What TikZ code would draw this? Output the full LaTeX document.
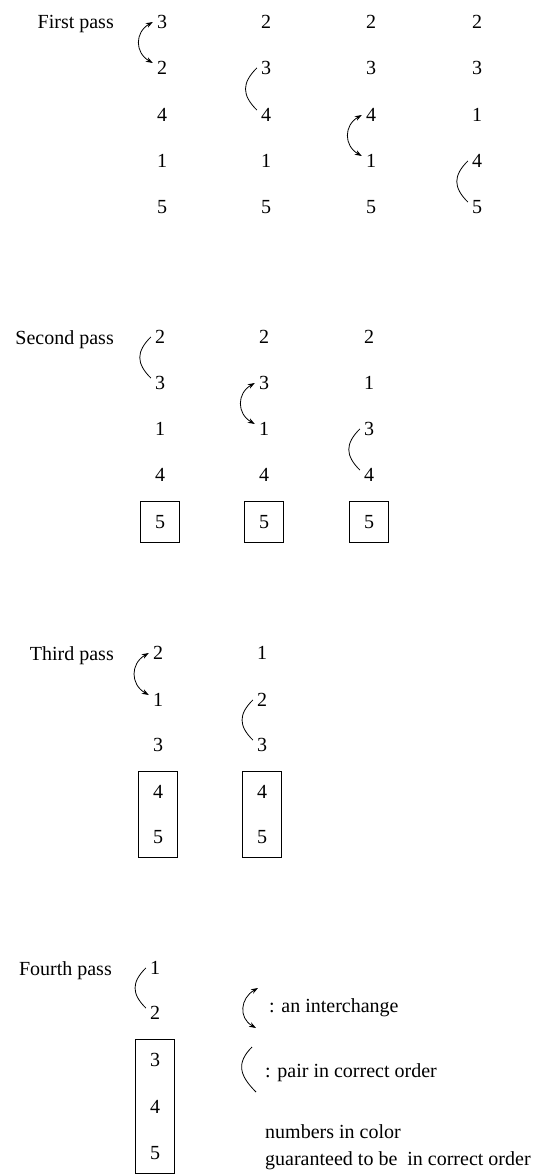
\documentclass[tikz,border=0pt]{standalone}
\usepackage{fontspec}
\setmainfont{Liberation Serif}
\usetikzlibrary{arrows.meta,fit}
\begin{document}
\begin{tikzpicture}[x=1pt,y=1pt,
  every node/.style={font=\fontsize{20}{24}\selectfont},
  num/.style={inner sep=2pt},
  lbl/.style={anchor=base east,inner sep=0pt},
  txt/.style={anchor=base west,inner sep=0pt},
  pairarc/.style={line width=0.8pt,looseness=1.3},
  swaparc/.style={line width=0.8pt,looseness=1.3,{Stealth[length=7pt,width=5pt]}-{Stealth[length=7pt,width=5pt]}},
  sortbox/.style={draw,line width=0.9pt,inner xsep=12pt,inner ysep=12pt}]
\useasboundingbox (0,0) rectangle (543,-1174);

% ---------- First pass ----------
\node[lbl] (l1) at (114,-29) {First pass};
\node[num] (a11) at (162,-22) {3};
\node[num] (a12) at (162,-68) {2};
\node[num] (a13) at (162,-115) {4};
\node[num] (a14) at (162,-161) {1};
\node[num] (a15) at (162,-207) {5};
\node[num] (a21) at (266,-22) {2};
\node[num] (a22) at (266,-68) {3};
\node[num] (a23) at (266,-115) {4};
\node[num] (a24) at (266,-161) {1};
\node[num] (a25) at (266,-207) {5};
\node[num] (a31) at (371,-22) {2};
\node[num] (a32) at (371,-68) {3};
\node[num] (a33) at (371,-115) {4};
\node[num] (a34) at (371,-161) {1};
\node[num] (a35) at (371,-207) {5};
\node[num] (a41) at (477,-22) {2};
\node[num] (a42) at (477,-68) {3};
\node[num] (a43) at (477,-115) {1};
\node[num] (a44) at (477,-161) {4};
\node[num] (a45) at (477,-207) {5};
\draw[swaparc] ([xshift=-2pt]a11.west) to[out=210,in=150] ([xshift=-2pt,yshift=5pt]a12.west);
\draw[pairarc] ([xshift=-2pt]a22.west) to[out=225,in=135] ([xshift=-2pt,yshift=5pt]a23.west);
\draw[swaparc] ([xshift=-2pt]a33.west) to[out=210,in=150] ([xshift=-2pt,yshift=5pt]a34.west);
\draw[pairarc] ([xshift=-2pt]a44.west) to[out=225,in=135] ([xshift=-2pt,yshift=5pt]a45.west);

% ---------- Second pass ----------
\node[lbl] (l2) at (114,-344) {Second pass};
\node[num] (b11) at (160,-337) {2};
\node[num] (b12) at (160,-383) {3};
\node[num] (b13) at (160,-429) {1};
\node[num] (b14) at (160,-475) {4};
\node[num] (b15) at (160,-522) {5};
\node[num] (b21) at (264,-337) {2};
\node[num] (b22) at (264,-383) {3};
\node[num] (b23) at (264,-429) {1};
\node[num] (b24) at (264,-475) {4};
\node[num] (b25) at (264,-522) {5};
\node[num] (b31) at (369,-337) {2};
\node[num] (b32) at (369,-383) {1};
\node[num] (b33) at (369,-429) {3};
\node[num] (b34) at (369,-475) {4};
\node[num] (b35) at (369,-522) {5};
\node[sortbox,fit=(b15)] (bx1) {};
\node[sortbox,fit=(b25)] (bx2) {};
\node[sortbox,fit=(b35)] (bx3) {};
\draw[pairarc] ([xshift=-2pt]b11.west) to[out=225,in=135] ([xshift=-2pt,yshift=5pt]b12.west);
\draw[swaparc] ([xshift=-2pt]b22.west) to[out=210,in=150] ([xshift=-2pt,yshift=5pt]b23.west);
\draw[pairarc] ([xshift=-2pt]b33.west) to[out=225,in=135] ([xshift=-2pt,yshift=5pt]b34.west);

% ---------- Third pass ----------
\node[lbl] (l3) at (114,-660) {Third pass};
\node[num] (c11) at (158,-653) {2};
\node[num] (c12) at (158,-700) {1};
\node[num] (c13) at (158,-745) {3};
\node[num] (c14) at (158,-792) {4};
\node[num] (c15) at (158,-837) {5};
\node[num] (c21) at (262,-653) {1};
\node[num] (c22) at (262,-700) {2};
\node[num] (c23) at (262,-745) {3};
\node[num] (c24) at (262,-792) {4};
\node[num] (c25) at (262,-837) {5};
\node[sortbox,fit=(c14)(c15)] (cx1) {};
\node[sortbox,fit=(c24)(c25)] (cx2) {};
\draw[swaparc] ([xshift=-2pt]c11.west) to[out=210,in=150] ([xshift=-2pt,yshift=5pt]c12.west);
\draw[pairarc] ([xshift=-2pt]c22.west) to[out=225,in=135] ([xshift=-2pt,yshift=5pt]c23.west);

% ---------- Fourth pass ----------
\node[lbl] (l4) at (112,-975) {Fourth pass};
\node[num] (d11) at (155,-968) {1};
\node[num] (d12) at (155,-1013) {2};
\node[num] (d13) at (155,-1060) {3};
\node[num] (d14) at (155,-1107) {4};
\node[num] (d15) at (155,-1153) {5};
\node[sortbox,fit=(d13)(d14)(d15)] (dx1) {};
\draw[pairarc] ([xshift=-2pt]d11.west) to[out=225,in=135] ([xshift=-2pt,yshift=5pt]d12.west);

% ---------- Legend ----------
\coordinate (ls1) at (258,-988);
\coordinate (ls2) at (256,-1028);
\draw[swaparc] (ls1) to[out=210,in=150] (ls2);
\node[txt] (lt1) at (269,-1012) {: an interchange};
\coordinate (lp1) at (252,-1047);
\coordinate (lp2) at (256,-1092);
\draw[pairarc] (lp1) to[out=225,in=135] (lp2);
\node[txt] (lt2) at (265,-1077) {: pair in correct order};
\node[txt] (lt3) at (265,-1138) {numbers in color};
\node[txt] (lt4) at (265,-1165) {guaranteed to be\ \ in correct order};
\end{tikzpicture}
\end{document}
